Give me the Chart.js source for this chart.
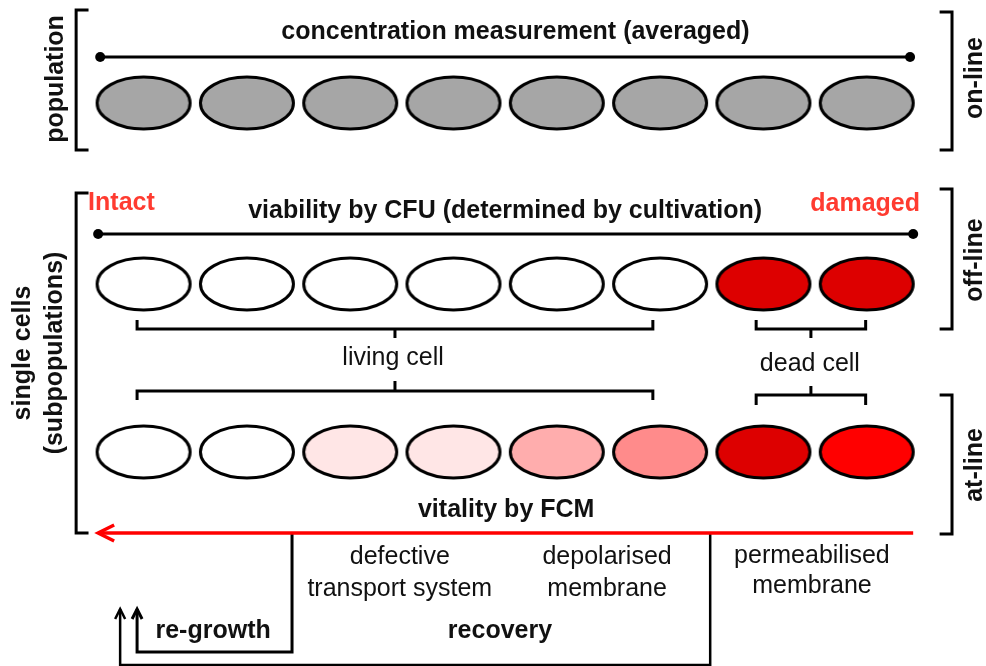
<!DOCTYPE html>
<html>
<head>
<meta charset="utf-8">
<script src="https://cdn.jsdelivr.net/npm/chart.js@4"></script>
<style>
  html, body { margin: 0; padding: 0; background: #fff; }
  #wrap { width: 986px; height: 666px; position: relative; }
</style>
</head>
<body>
<div id="wrap"><canvas id="myChart"></canvas></div>
<script>
  // cells along the x axis (index units), rows on a reversed vertical axis
  const cells = [0, 1, 2, 3, 4, 5, 6, 7];
  const rowLevels = [103, 284, 452]; // population, CFU, FCM

  const populationFill = ['#a6a6a6', '#a6a6a6', '#a6a6a6', '#a6a6a6', '#a6a6a6', '#a6a6a6', '#a6a6a6', '#a6a6a6'];
  const cfuFill = ['#ffffff', '#ffffff', '#ffffff', '#ffffff', '#ffffff', '#ffffff', '#dd0000', '#dd0000'];
  const fcmFill = ['#ffffff', '#ffffff', '#ffe6e6', '#ffe6e6', '#ffadad', '#ff8b8b', '#dd0000', '#ff0000'];

  // measurement scales (x from, x to, level)
  const scaleLines = [
    [-0.42, 7.42, 57],
    [-0.44, 7.45, 234]
  ];
  const fcmArrow = [7.45, -0.44, 533];

  // side brackets: x, top, bottom, tick direction
  const sideBrackets = [
    [-0.653, 10, 150, 1],
    [-0.653, 193, 533, 1],
    [7.826, 12, 150, -1],
    [7.826, 189, 329, -1],
    [7.826, 395, 534, -1]
  ];

  // group brackets: from, to, line level, tick end, stem end
  const groupBrackets = [
    [-0.063, 4.93, 329, 320, 338],
    [-0.063, 4.93, 391, 400, 381],
    [5.93, 6.99, 329, 320, 338],
    [5.93, 6.99, 395, 405, 386]
  ];

  // feedback paths
  const regrowthPath = [[1.437, 533], [1.437, 652], [-0.063, 652], [-0.063, 609]];
  const recoveryPath = [[5.485, 533], [5.485, 665], [-0.227, 665], [-0.227, 609]];

  const labels = [
    { text: 'concentration measurement (averaged)', x: 3.6, y: 32, kind: 'title' },
    { text: 'Intact', x: -0.537, y: 203, kind: 'red', align: 'left' },
    { text: 'viability by CFU (determined by cultivation)', x: 3.5, y: 211, kind: 'title' },
    { text: 'damaged', x: 7.516, y: 204, kind: 'red', align: 'right' },
    { text: 'living cell', x: 2.415, y: 358, kind: 'plain' },
    { text: 'dead cell', x: 6.45, y: 364, kind: 'plain' },
    { text: 'vitality by FCM', x: 3.51, y: 510, kind: 'title' },
    { text: 'defective', x: 2.48, y: 557, kind: 'plain' },
    { text: 'transport system', x: 2.48, y: 589, kind: 'plain' },
    { text: 'depolarised', x: 4.487, y: 557, kind: 'plain' },
    { text: 'membrane', x: 4.487, y: 589, kind: 'plain' },
    { text: 'permeabilised', x: 6.47, y: 556, kind: 'plain' },
    { text: 'membrane', x: 6.47, y: 586, kind: 'plain' },
    { text: 're-growth', x: 0.673, y: 631, kind: 'title' },
    { text: 'recovery', x: 3.45, y: 631, kind: 'title' },
    { text: 'population', x: -0.847, y: 79, kind: 'title', vertical: true },
    { text: 'single cells', x: -1.167, y: 353, kind: 'title', vertical: true },
    { text: '(subpopulations)', x: -0.857, y: 353, kind: 'title', vertical: true },
    { text: 'on-line', x: 8.05, y: 78, kind: 'title', vertical: true },
    { text: 'off-line', x: 8.05, y: 260, kind: 'title', vertical: true },
    { text: 'at-line', x: 8.05, y: 465, kind: 'title', vertical: true }
  ];

  const fonts = {
    title: { font: 'bold 25px "Liberation Sans", Arial, sans-serif', color: '#111' },
    red: { font: 'bold 25px "Liberation Sans", Arial, sans-serif', color: '#ff3b30' },
    plain: { font: '25px "Liberation Sans", Arial, sans-serif', color: '#111' }
  };

  const ellipseCache = {};
  function ellipseImage(fill) {
    if (ellipseCache[fill]) return ellipseCache[fill];
    const c = document.createElement('canvas');
    c.width = 100;
    c.height = 60;
    const g = c.getContext('2d');
    g.beginPath();
    g.ellipse(50, 30, 46.5, 26, 0, 0, Math.PI * 2);
    g.fillStyle = fill;
    g.fill();
    g.lineWidth = 3;
    g.strokeStyle = '#000';
    g.stroke();
    ellipseCache[fill] = c;
    return c;
  }

  function cellRow(level, fills) {
    return {
      data: cells.map(i => ({ x: i, y: level })),
      showLine: false,
      pointRadius: 20,
      pointStyle: fills.map(ellipseImage)
    };
  }

  function path(points, opts) {
    return Object.assign({
      data: points.map(p => ({ x: p[0], y: p[1] })),
      showLine: true,
      borderColor: '#000',
      borderWidth: 3,
      pointRadius: 0,
      fill: false,
      tension: 0
    }, opts || {});
  }

  const datasets = [];
  datasets.push(cellRow(rowLevels[0], populationFill));
  datasets.push(cellRow(rowLevels[1], cfuFill));
  datasets.push(cellRow(rowLevels[2], fcmFill));

  scaleLines.forEach(s => {
    datasets.push(path([[s[0], s[2]], [s[1], s[2]]], {
      pointRadius: 5, pointBackgroundColor: '#000', pointBorderWidth: 0
    }));
  });

  datasets.push(path([[fcmArrow[0], fcmArrow[2]], [fcmArrow[1], fcmArrow[2]]], {
    borderColor: '#ff0000', borderWidth: 3.5, arrowHead: { len: 16, half: 8 }
  }));

  sideBrackets.forEach(b => {
    const t = b[3] * 0.12;
    datasets.push(path([[b[0] + t, b[1]], [b[0], b[1]], [b[0], b[2]], [b[0] + t, b[2]]]));
  });

  groupBrackets.forEach(b => {
    const mid = (b[0] + b[1]) / 2;
    datasets.push(path([[b[0], b[3]], [b[0], b[2]], [b[1], b[2]], [b[1], b[3]]]));
    datasets.push(path([[mid, b[2]], [mid, b[4]]]));
  });

  datasets.push(path(regrowthPath, { borderWidth: 3, arrowHead: { len: 10, half: 5 } }));
  datasets.push(path(recoveryPath, { borderWidth: 2.5, arrowHead: { len: 10, half: 5 } }));

  const diagramPlugin = {
    id: 'diagram',
    afterDatasetsDraw(chart) {
      const ctx = chart.ctx;
      const xs = chart.scales.x, ys = chart.scales.y;
      // arrowheads at the last point of flagged paths
      chart.data.datasets.forEach((ds, i) => {
        if (!ds.arrowHead) return;
        const pts = chart.getDatasetMeta(i).data;
        const a = pts[pts.length - 2], b = pts[pts.length - 1];
        const ang = Math.atan2(b.y - a.y, b.x - a.x);
        const L = ds.arrowHead.len, H = ds.arrowHead.half;
        ctx.save();
        ctx.translate(b.x, b.y);
        ctx.rotate(ang);
        ctx.beginPath();
        ctx.moveTo(-L, -H);
        ctx.lineTo(0, 0);
        ctx.lineTo(-L, H);
        ctx.strokeStyle = ds.borderColor;
        ctx.lineWidth = ds.borderWidth;
        ctx.lineJoin = 'miter';
        ctx.stroke();
        ctx.restore();
      });
      labels.forEach(l => {
        const st = fonts[l.kind];
        const px = xs.getPixelForValue(l.x), py = ys.getPixelForValue(l.y);
        ctx.save();
        ctx.font = st.font;
        ctx.fillStyle = st.color;
        ctx.textAlign = l.align || 'center';
        ctx.textBaseline = 'middle';
        ctx.translate(px, py);
        if (l.vertical) ctx.rotate(-Math.PI / 2);
        ctx.fillText(l.text, 0, 0);
        ctx.restore();
      });
    }
  };

  const config = {
    type: 'scatter',
    data: { datasets: datasets },
    options: {
      responsive: true,
      maintainAspectRatio: false,
      animation: false,
      events: [],
      layout: { padding: 0, autoPadding: false },
      plugins: { legend: { display: false }, tooltip: { enabled: false } },
      scales: {
        x: { type: 'linear', min: -1.39, max: 8.155, display: false },
        y: { type: 'linear', min: 0, max: 666, reverse: true, display: false }
      }
    },
    plugins: [diagramPlugin]
  };

  const myChart = new Chart(document.getElementById('myChart'), config);
</script>
</body>
</html>
